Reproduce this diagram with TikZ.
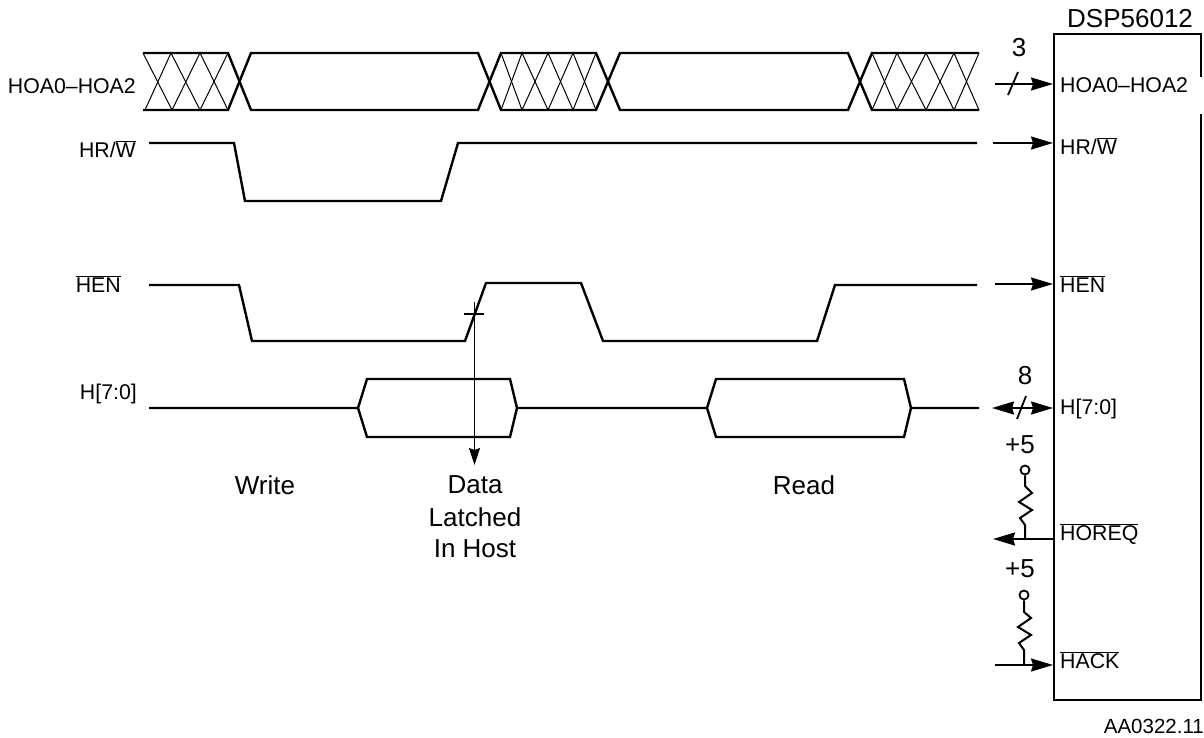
\documentclass[tikz,border=0pt]{standalone}
\usepackage{fontspec}
\setmainfont{Liberation Sans}
\usetikzlibrary{arrows.meta}
\tikzset{
  sig/.style={line width=2.4pt,line join=miter},
  thin hatch/.style={line width=1pt},
  arrowline/.style={line width=2pt,-{Stealth[length=22pt,width=13pt,inset=2pt]}},
  leftlab/.style={anchor=east,font=\fontsize{21.3}{24}\selectfont,inner sep=0pt},
  pinlab/.style={anchor=west,font=\fontsize{21.3}{24}\selectfont,inner sep=0pt},
  biglab/.style={font=\fontsize{26}{30}\selectfont,inner sep=0pt},
  res/.style={line width=2pt,line join=miter},
  pullup/.style={circle,draw,line width=1.8pt,minimum size=9pt,inner sep=0pt},
}
\newcommand{\ovl}[1]{$\overline{\hbox{#1}}$}
\begin{document}
\begin{tikzpicture}[x=1pt,y=-1pt]
\useasboundingbox (0,0) rectangle (1204,738);
% left labels
\node[leftlab] (l1) at (136,86) {HOA0–HOA2};
\node[leftlab] (l2) at (136,149) {HR/\ovl{W}};
\node[leftlab] (l3) at (121,284) {\ovl{HEN}};
\node[leftlab] (l4) at (137,394) {H[7:0]};
% HOA bus
\draw[sig] (143,53) -- (228,53) -- (251,110) -- (478,110) -- (501,53) -- (596,53) -- (620,110) -- (848,110) -- (872,53) -- (979,53);
\draw[sig] (143,110) -- (228,110) -- (251,53) -- (478,53) -- (501,110) -- (596,110) -- (620,53) -- (848,53) -- (872,110) -- (979,110);
\draw[thin hatch] (143,53) -- (172,110) -- (200,53) -- (228,110);
\draw[thin hatch] (145,110) -- (171,53) -- (200,110) -- (228,53);
\draw[thin hatch] (501,53) -- (522,110) -- (548,53) -- (573,110) -- (596,53);
\draw[thin hatch] (501,110) -- (522,53) -- (548,110) -- (573,53) -- (596,110);
\draw[thin hatch] (872,53) -- (897,110) -- (926,53) -- (954,110) -- (979,53);
\draw[thin hatch] (872,110) -- (897,53) -- (926,110) -- (954,53) -- (979,110);
% HR/W
\draw[sig] (149,143) -- (234,143) -- (245,201) -- (441,201) -- (458,143) -- (977,143);
% HEN
\draw[sig] (149,285) -- (239,285) -- (252,341) -- (465,341) -- (486,283) -- (581,283) -- (603,341) -- (817,341) -- (835,285) -- (977,285);
% H[7:0]
\draw[sig] (149,408) -- (358,408) -- (367,379) -- (510,379) -- (517,408) -- (707,408) -- (716,379) -- (904,379) -- (911,408) -- (979,408);
\draw[sig] (358,408) -- (367,437) -- (510,437) -- (517,408);
\draw[sig] (707,408) -- (716,437) -- (904,437) -- (911,408);
% latch marker
\coordinate (m1) at (464,314);
\coordinate (m2) at (484,314);
\draw[line width=1.1pt] (m1) -- (m2);
\coordinate (d1) at (474.5,302);
\coordinate (d2) at (474.5,465);
\draw[line width=1.5pt,-{Stealth[length=17pt,width=11pt,inset=2pt]}] (d1) -- (d2);
% Box
\draw[line width=2.4pt] (1054,34) rectangle (1201,700);
\fill[white] (1190,77) rectangle (1204,114);
\node[biglab,anchor=west] (dsp) at (1067,18.5) {DSP56012};
% pins
\node[pinlab] (p1) at (1060,85) {HOA0–HOA2};
\node[pinlab] (p2) at (1060,146) {HR/\ovl{W}};
\node[pinlab] (p3) at (1060,284) {\ovl{HEN}};
\node[pinlab] (p4) at (1060,409) {H[7:0]};
\node[pinlab] (p5) at (1060,534) {\ovl{HOREQ}};
\node[pinlab] (p6) at (1060,660) {\ovl{HACK}};
\coordinate (b1) at (1053,84);
\coordinate (b2) at (1053,143);
\coordinate (b3) at (1053,284);
\coordinate (b4) at (1053,408);
\coordinate (b5) at (1054,539);
\coordinate (b6) at (1053,665);
\coordinate (s1) at (995,84);
\coordinate (s2) at (993,143);
\coordinate (s3) at (995,284);
\coordinate (s4) at (992,408);
\coordinate (s5) at (993,539);
\coordinate (s6) at (995,665);
\draw[arrowline] (s1) -- (b1);
\draw[arrowline] (s2) -- (b2);
\draw[arrowline] (s3) -- (b3);
\draw[line width=2pt,{Stealth[length=22pt,width=13pt,inset=2pt]}-{Stealth[length=22pt,width=13pt,inset=2pt]}] (s4) -- (b4);
\draw[arrowline] (b5) -- (s5);
\draw[arrowline] (s6) -- (b6);
\draw[line width=1.8pt] (1008,95) -- (1018,72);
\draw[line width=1.8pt] (1017,419) -- (1026,396);
\node[biglab] (n3) at (1019,48) {3};
\node[biglab] (n8) at (1025,376) {8};
\node[biglab] (v1) at (1020,445) {+5};
\node[biglab] (v2) at (1020,569) {+5};
% resistors
\node[pullup] (ra) at (1025,470) {};
\node[pullup] (rb) at (1024,595) {};
\draw[res] (ra.south) -- (1025,486) -- (1032,493) -- (1019,502) -- (1032,510) -- (1020,518) -- (1025,525) -- (1025,539);
\draw[res] (rb.south) -- (1024,612) -- (1031,618) -- (1018,627) -- (1031,635) -- (1019,643) -- (1024,650) -- (1024,665);
% captions
\node[biglab] (t1) at (265,485) {Write};
\node[biglab] (t2a) at (475,485) {Data};
\node[biglab] (t2b) at (475,517) {Latched};
\node[biglab] (t2c) at (475,549) {In Host};
\node[biglab] (t3) at (804,485) {Read};
\node[anchor=east,inner sep=0pt,font=\fontsize{20.5}{24}\selectfont] (aa) at (1204,726) {AA0322.11};
\end{tikzpicture}
\end{document}
